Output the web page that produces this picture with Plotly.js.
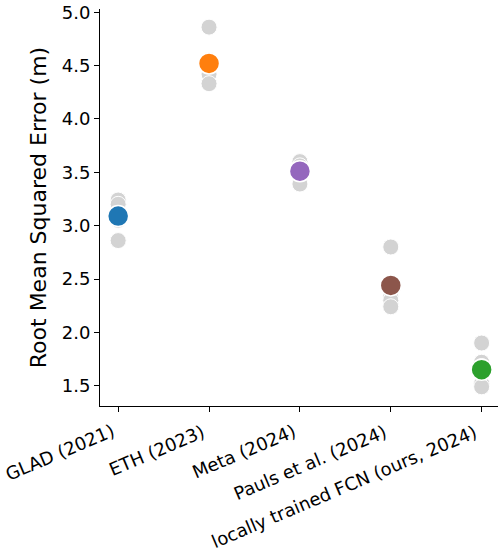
<!DOCTYPE html>
<html><head><meta charset="utf-8">
<script src="https://cdn.plot.ly/plotly-3.0.1.min.js"></script>
<style>body{margin:0;background:#fff}#c{width:498px;height:552px}</style>
</head><body><div id="c"></div>
<script>
const categories = ["GLAD (2021)", "ETH (2023)", "Meta (2024)", "Pauls et al. (2024)", "locally trained FCN (ours, 2024)"];
const runsGLAD = [3.24, 3.20, 3.10, 3.05, 2.86];
const runsETH = [4.86, 4.55, 4.48, 4.42, 4.33];
const runsMeta = [3.60, 3.56, 3.52, 3.50, 3.39];
const runsPauls = [2.80, 2.40, 2.34, 2.30, 2.24];
const runsFCN = [1.90, 1.72, 1.68, 1.52, 1.49];
const meanValues = [3.09, 4.52, 3.51, 2.44, 1.65];
const meanColors = ["#1f77b4", "#ff7f0e", "#9467bd", "#8c564b", "#2ca02c"];

const allRuns = [runsGLAD, runsETH, runsMeta, runsPauls, runsFCN];
const gx = [], gy = [];
allRuns.forEach((r, i) => r.forEach(v => { gx.push(i); gy.push(v); }));

const traces = [
  {x: gx, y: gy, type: 'scatter', mode: 'markers', hoverinfo: 'skip',
   marker: {size: 16, color: '#d3d3d3', line: {color: '#ffffff', width: 1}}},
  {x: categories.map((c, i) => i), y: meanValues, type: 'scatter', mode: 'markers',
   marker: {size: 21, color: meanColors, line: {color: '#ffffff', width: 1.5}}}
];

const FS = 18;
const ANGLE = -23;
const annotations = categories.map((c, i) => ({
  x: i, y: 0, xref: 'x', yref: 'paper', text: c, showarrow: false,
  textangle: ANGLE, xanchor: 'center', yanchor: 'middle', xshift: 0, yshift: -40,
  font: {family: 'DejaVu Sans', size: FS, color: '#000'}
}));
const layout = {
  width: 498, height: 552, showlegend: false,
  paper_bgcolor: '#fff', plot_bgcolor: '#fff',
  margin: {l: 100, r: 0, t: 9, b: 146},
  font: {family: 'DejaVu Sans', size: FS, color: '#000'},
  annotations: annotations,
  xaxis: {range: [-0.2, 4.18], tickvals: [0, 1, 2, 3, 4], showticklabels: false,
    showgrid: false, zeroline: false, showline: true, linecolor: '#000',
    linewidth: 1, ticks: 'outside', ticklen: 5, tickcolor: '#000'},
  yaxis: {range: [1.31, 5.03], tickvals: [1.5, 2.0, 2.5, 3.0, 3.5, 4.0, 4.5, 5.0],
    ticktext: ['1.5', '2.0', '2.5', '3.0', '3.5', '4.0', '4.5', '5.0'],
    showgrid: false, zeroline: false, showline: true, linecolor: '#000', linewidth: 1,
    ticks: 'outside', ticklen: 5, tickcolor: '#000', tickfont: {size: FS},
    title: {text: 'Root Mean Squared Error (m)', font: {size: 22}, standoff: 9}}
};
const gd = document.getElementById('c');
Plotly.newPlot(gd, traces, layout, {displayModeBar: false, staticPlot: true}).then(() => {
  // align each rotated label so its box ends at its tick (like ha='right')
  const xa = gd._fullLayout.xaxis, ya = gd._fullLayout.yaxis;
  const plotBottom = ya._offset + ya._length;
  const nodes = gd.querySelectorAll('.annotation');
  const upd = {};
  nodes.forEach((n, i) => {
    const t = n.querySelector('text');
    const r = t.getBoundingClientRect();
    const tickPx = xa._offset + xa.l2p(i);
    const dx = (tickPx - 1) - r.right;
    const dy = (plotBottom + 15) - r.top;
    upd['annotations[' + i + '].xshift'] = annotations[i].xshift + dx;
    upd['annotations[' + i + '].yshift'] = annotations[i].yshift - dy;
  });
  return Plotly.relayout(gd, upd);
});
</script></body></html>
